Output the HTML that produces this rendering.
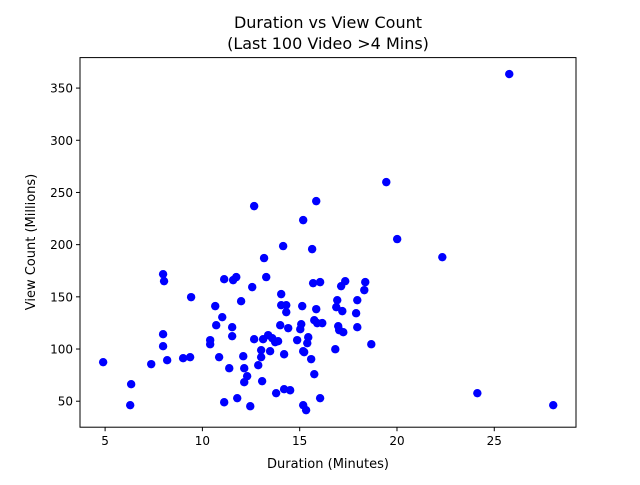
<!DOCTYPE html>
<html><head><meta charset="utf-8"><style>
body{margin:0;background:#fff;font-family:"Liberation Sans","DejaVu Sans",sans-serif;}
svg text{font-family:"DejaVu Sans","Liberation Sans",sans-serif;}
</style></head><body>
<svg id="chart" width="640" height="480" xmlns="http://www.w3.org/2000/svg">
<rect width="640" height="480" fill="#fff"/>
<text x="328" y="28" font-size="16" text-anchor="middle">Duration vs View Count</text>
<text x="328" y="49" font-size="16" text-anchor="middle">(Last 100 Video &gt;4 Mins)</text>
<g id="ticks"></g>
<g id="points"></g>
<rect x="80" y="57.6" width="496" height="369.6" fill="none" stroke="#000" stroke-width="1"/>
<text x="328" y="468" font-size="13" text-anchor="middle">Duration (Minutes)</text>
<text transform="translate(35,242) rotate(-90)" font-size="13" text-anchor="middle">View Count (Millions)</text>
</svg>
<script>
const durations=[4.9,6.34,6.29,7.37,7.98,8.03,7.98,7.98,8.19,9.42,9.01,9.37,10.4,10.4,10.66,10.71,10.86,11.02,11.12,11.12,11.38,11.53,11.53,11.58,11.74,11.79,11.99,12.1,12.15,12.15,12.3,12.46,12.56,12.66,12.66,12.87,13.02,13.02,13.07,13.12,13.17,13.28,13.38,13.48,13.59,13.74,13.79,13.89,14.0,14.05,14.05,14.15,14.2,14.2,14.31,14.31,14.41,14.51,14.87,15.03,15.08,15.13,15.18,15.18,15.18,15.23,15.33,15.39,15.44,15.59,15.64,15.69,15.75,15.75,15.85,15.85,15.9,16.05,16.05,16.16,16.83,16.88,16.93,16.98,17.03,17.13,17.19,17.24,17.34,17.9,17.96,17.96,18.32,18.37,18.68,19.45,20.01,22.33,24.13,25.77,28.03];
const views=[87.4,66.3,46.2,85.5,171.7,165,114.2,102.7,89.3,149.7,91.2,92.2,108.5,104.6,141.1,122.8,92.2,130.5,49,166.9,81.6,120.9,112.3,166,168.9,52.9,145.8,93.1,68.2,81.6,74,45.2,159.3,236.9,109.4,84.5,92.2,98.9,69.2,109.4,187.1,168.9,113.3,97.9,110.4,106.6,57.7,107.5,122.8,152.6,142,198.6,61.5,95,142,135.3,120,60.5,108.5,119,123.8,141.1,223.5,97.9,46.2,97,41.4,105.6,111.3,90.3,195.7,163.1,127.6,75.9,241.7,138.2,124.8,164.1,52.9,124.8,99.8,140.1,146.8,121.9,118.1,160.2,136.3,116.1,165,134.3,120.9,146.8,156.4,164.1,104.6,259.9,205.3,188,57.7,363.4,46.2];
const xTicks=[5,10,15,20,25];
const yTicks=[50,100,150,200,250,300,350];
const X0=80,X1=576,Y0=427.2,Y1=57.6;
const xMin=3.71,xMax=29.2,yMin=25.1,yMax=379.2;
const sx=v=>X0+(v-xMin)/(xMax-xMin)*(X1-X0);
const sy=v=>Y0-(v-yMin)/(yMax-yMin)*(Y0-Y1);
const NS="http://www.w3.org/2000/svg";
const tg=document.getElementById('ticks'),pg=document.getElementById('points');
function mk(t,a){const e=document.createElementNS(NS,t);for(const k in a)e.setAttribute(k,a[k]);return e;}
xTicks.forEach(v=>{const x=sx(v);
 const l=mk('line',{x1:x,x2:x,y1:Y0,y2:Y0+4,stroke:'#000'});
 
 
 tg.appendChild(l);
 const t=mk('text',{x:x,y:Y0+18,'font-size':12,'text-anchor':'middle'});t.textContent=v;
 
 
 tg.appendChild(t);});
yTicks.forEach(v=>{const y=sy(v);
 const l=mk('line',{x1:X0-4,x2:X0,y1:y,y2:y,stroke:'#000'});
 
 
 tg.appendChild(l);
 const t=mk('text',{x:X0-7,y:y+4.5,'font-size':12,'text-anchor':'end'});t.textContent=v;
 
 
 tg.appendChild(t);});
durations.forEach((d,i)=>{const c=mk('circle',{cx:sx(d),cy:sy(views[i]),r:4.2,fill:'#0000ff'});
 
 
 pg.appendChild(c);});
</script>
</body></html>
